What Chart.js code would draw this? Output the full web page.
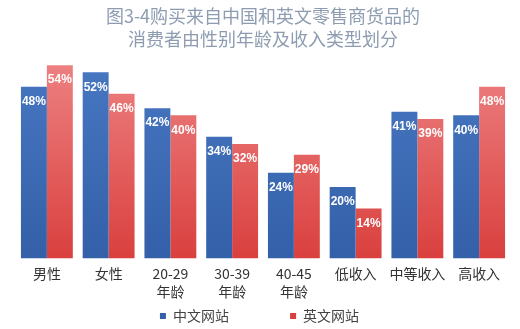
<!DOCTYPE html>
<html>
<head>
<meta charset="utf-8">
<script src="https://cdn.jsdelivr.net/npm/chart.js@4"></script>
<style>
  html, body { margin: 0; padding: 0; background: #fff; }
  #wrap { width: 520px; height: 329px; }
</style>
</head>
<body>
<div id="wrap"><canvas id="chart" width="520" height="329"></canvas></div>
<script>
// categories and values
const categories = [
  "男性",
  "女性",
  ["20-29", "年龄"],
  ["30-39", "年龄"],
  ["40-45", "年龄"],
  "低收入",
  "中等收入",
  "高收入",
]
const chineseSites = [48, 52, 42, 34, 24, 20, 41, 40]
const englishSites = [54, 46, 40, 32, 29, 14, 39, 48]
const seriesNames = ["中文网站", "英文网站"]

const cjk = "'Noto Sans CJK SC', 'DejaVu Sans', sans-serif"

// vertical gradient for bars
function barGradient(ctx, top, bottom) {
  const area = ctx.chart.chartArea
  if (!area) return bottom
  const g = ctx.chart.ctx.createLinearGradient(0, area.top, 0, area.bottom)
  g.addColorStop(0, top)
  g.addColorStop(1, bottom)
  return g
}

// white % labels inside the top of each bar
const valueLabels = {
  id: "valueLabels",
  afterDatasetsDraw(chart) {
    const ctx = chart.ctx
    ctx.save()
    ctx.fillStyle = "#ffffff"
    ctx.font = "bold 12px 'Liberation Sans', Arial, sans-serif"
    ctx.textAlign = "center"
    ctx.textBaseline = "middle"
    chart.data.datasets.forEach((ds, i) => {
      chart.getDatasetMeta(i).data.forEach((bar, j) => {
        ctx.fillText(ds.data[j] + "%", bar.x, bar.y + 15)
      })
    })
    ctx.restore()
  },
}

const data = {
  labels: categories,
  datasets: [
    {
      label: seriesNames[0],
      data: chineseSites,
      backgroundColor: (c) => barGradient(c, "#4877c2", "#3360a8"),
    },
    {
      label: seriesNames[1],
      data: englishSites,
      backgroundColor: (c) => barGradient(c, "#ee8283", "#d9403e"),
    },
  ],
}

const config = {
  type: "bar",
  data: data,
  options: {
    responsive: false,
    animation: false,
    devicePixelRatio: 1,
    layout: { padding: { left: 16, right: 10, top: 0, bottom: -4 } },
    datasets: {
      bar: { categoryPercentage: 0.84, barPercentage: 1 },
    },
    scales: {
      x: {
        grid: { display: false, drawTicks: false },
        border: { display: false },
        ticks: {
          color: "#333",
          padding: 6,
          maxRotation: 0,
          autoSkip: false,
          font: { family: cjk, size: 14, lineHeight: 1.3 },
        },
      },
      y: { display: false, min: 0, max: 56 },
    },
    plugins: {
      title: {
        display: true,
        text: ["图3-4购买来自中国和英文零售商货品的", "消费者由性别年龄及收入类型划分"],
        color: "#8d9cb0",
        font: { family: cjk, size: 18, weight: "normal", lineHeight: 1.25 },
        padding: { top: 5, bottom: 8 },
      },
      legend: {
        position: "bottom",
        labels: {
          color: "#444",
          usePointStyle: true,
          pointStyle: "rect",
          boxWidth: 6,
          boxHeight: 6,
          padding: 2,
          font: { family: cjk, size: 14 },
          // stretch the gap between the two entries like the original
          generateLabels(chart) {
            const items = Chart.defaults.plugins.legend.labels.generateLabels(chart)
            items[0].text = items[0].text + "\u3000\u3000\u3000\u3000 "
            items[1].text = items[1].text + "\u2002"
            return items
          },
        },
      },
      tooltip: { enabled: false },
    },
  },
  plugins: [valueLabels],
}

const myChart = new Chart(document.getElementById("chart"), config)
</script>
</body>
</html>
